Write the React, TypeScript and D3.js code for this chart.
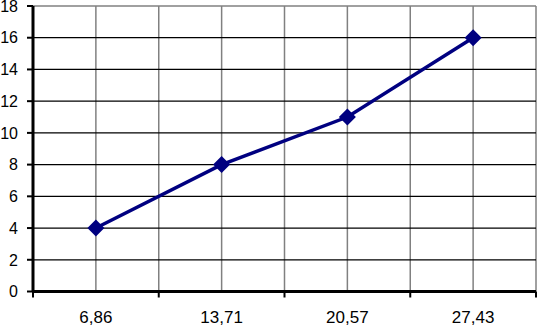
import React, { useEffect, useRef } from 'react'
import * as d3 from 'd3'

const categories = ['6,86', '13,71', '20,57', '27,43']
const values = [4, 8, 11, 16]
const yTicks = [0, 2, 4, 6, 8, 10, 12, 14, 16, 18]

export default function App() {
  const ref = useRef<SVGSVGElement>(null)

  useEffect(() => {
    const svg = d3.select(ref.current)
    svg.selectAll('*').remove()

    const width = 537
    const height = 328
    const left = 33
    const right = 536
    const top = 6
    const bottom = 291.5

    const x = d3.scaleBand<string>().domain(categories).range([left, right])
    const y = d3.scaleLinear().domain([0, 18]).range([bottom, top])
    const bw = x.bandwidth()

    svg.attr('width', width).attr('height', height)
    svg.append('rect').attr('width', width).attr('height', height).attr('fill', '#fff')

    // vertical grid (every half band)
    const vLines: number[] = []
    categories.forEach(c => {
      vLines.push(x(c)! + bw / 2)
      vLines.push(x(c)! + bw)
    })
    svg
      .append('g')
      .selectAll('line')
      .data(vLines)
      .join('line')
      .attr('x1', d => d)
      .attr('x2', d => d)
      .attr('y1', top)
      .attr('y2', bottom)
      .attr('stroke', '#808080')
      .attr('stroke-width', 1.5)

    // horizontal grid
    svg
      .append('g')
      .selectAll('line')
      .data(yTicks.filter(t => t > 0))
      .join('line')
      .attr('x1', left)
      .attr('x2', right)
      .attr('y1', d => y(d))
      .attr('y2', d => y(d))
      .attr('stroke', d => (d === 18 ? '#808080' : '#000'))
      .attr('stroke-width', 1.3)

    // y axis
    svg.append('line')
      .attr('x1', left).attr('x2', left)
      .attr('y1', top).attr('y2', bottom)
      .attr('stroke', '#000').attr('stroke-width', 3)
    yTicks.forEach(t => {
      svg.append('line')
        .attr('x1', left - 6).attr('x2', left)
        .attr('y1', y(t)).attr('y2', y(t))
        .attr('stroke', '#000').attr('stroke-width', 2)
      svg.append('text')
        .attr('x', 18)
        .attr('y', y(t))
        .attr('dy', '0.36em')
        .attr('text-anchor', 'end')
        .attr('font-family', 'Liberation Sans, Arial, sans-serif')
        .attr('font-size', 16)
        .text(t)
    })

    // x axis
    svg.append('line')
      .attr('x1', left).attr('x2', right)
      .attr('y1', bottom).attr('y2', bottom)
      .attr('stroke', '#000').attr('stroke-width', 3)
    const bounds = [left, ...categories.map(c => x(c)! + bw)]
    bounds.forEach(b => {
      svg.append('line')
        .attr('x1', b).attr('x2', b)
        .attr('y1', bottom).attr('y2', bottom + 6)
        .attr('stroke', '#000').attr('stroke-width', 2)
    })
    categories.forEach(c => {
      svg.append('text')
        .attr('x', x(c)! + bw / 2)
        .attr('y', 323)
        .attr('text-anchor', 'middle')
        .attr('font-family', 'Liberation Sans, Arial, sans-serif')
        .attr('font-size', 17)
        .text(c)
    })

    // series line
    const line = d3.line<number>()
      .x((_, i) => x(categories[i])! + bw / 2)
      .y(d => y(d))
    svg.append('path')
      .datum(values)
      .attr('d', line)
      .attr('fill', 'none')
      .attr('stroke', '#000080')
      .attr('stroke-width', 3.5)

    // diamond markers
    const r = 8.5
    svg.append('g')
      .selectAll('path')
      .data(values)
      .join('path')
      .attr('d', (d, i) => {
        const cx = x(categories[i])! + bw / 2
        const cy = y(d)
        return `M${cx},${cy - r}L${cx + r},${cy}L${cx},${cy + r}L${cx - r},${cy}Z`
      })
      .attr('fill', '#000080')
  }, [])

  return <svg ref={ref} style={{ position: 'absolute', left: 0, top: 0, display: 'block' }}></svg>
}
